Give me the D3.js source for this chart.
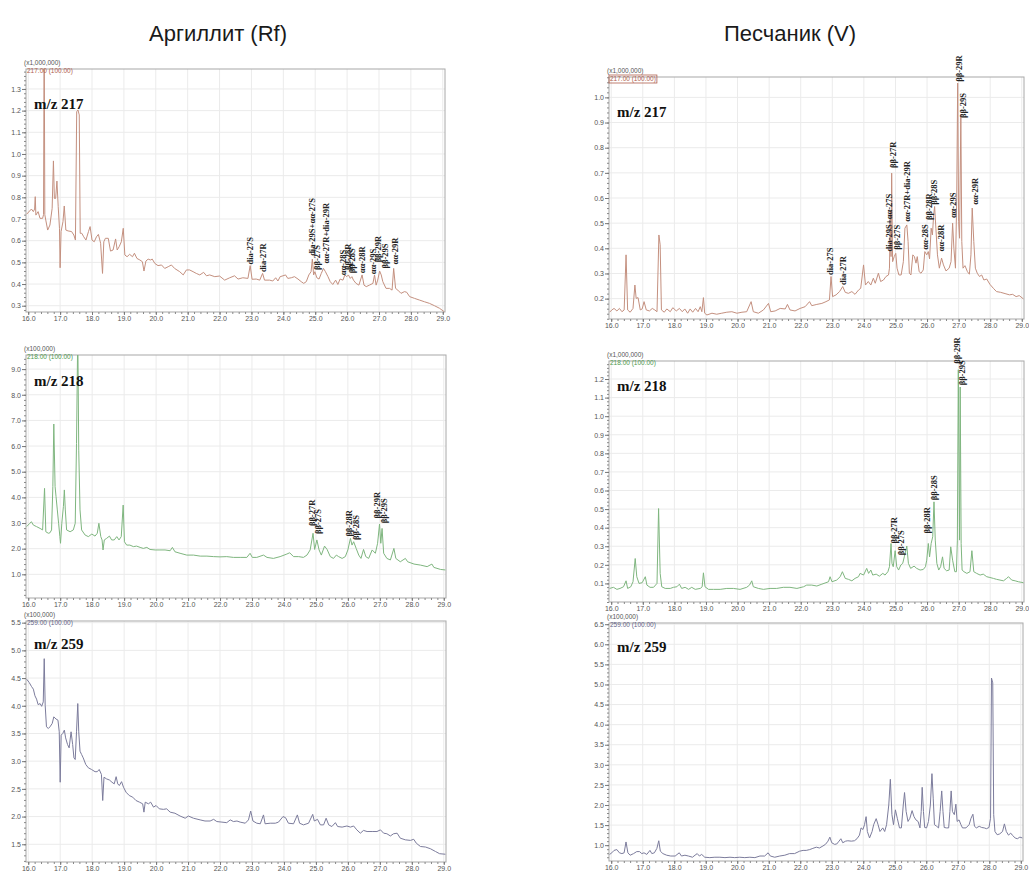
<!DOCTYPE html>
<html>
<head>
<meta charset="utf-8">
<script src="https://cdn.jsdelivr.net/npm/d3@7/dist/d3.min.js"></script>
<style>
  html, body { margin: 0; padding: 0; background: #fff; }
  svg { display: block; }
</style>
</head>
<body>
<svg id="chart" width="1029" height="875"></svg>
<script>
// ---- Column titles ----
const titles = ["Аргиллит (Rf)", "Песчаник (V)"];

// ---- Retention-time ticks (min) ----
const xTicks = [16, 17, 18, 19, 20, 21, 22, 23, 24, 25, 26, 27, 28, 29];

// ---- Intensity ticks per chromatogram ----
const rf217Ticks = [0.3, 0.4, 0.5, 0.6, 0.7, 0.8, 0.9, 1.0, 1.1, 1.2, 1.3];
const rf218Ticks = [1, 2, 3, 4, 5, 6, 7, 8, 9];
const rf259Ticks = [1.5, 2.0, 2.5, 3.0, 3.5, 4.0, 4.5, 5.0, 5.5];
const v217Ticks = [0.2, 0.3, 0.4, 0.5, 0.6, 0.7, 0.8, 0.9, 1.0];
const v218Ticks = [0.1, 0.2, 0.3, 0.4, 0.5, 0.6, 0.7, 0.8, 0.9, 1.0, 1.1, 1.2];
const v259Ticks = [1.0, 1.5, 2.0, 2.5, 3.0, 3.5, 4.0, 4.5, 5.0, 5.5, 6.0, 6.5];

// ---- Traces: [retention time, intensity] ----
const rf217 = [[15.95,0.722],[16.10,0.746],[16.16,0.734],[16.20,0.746],[16.22,0.803],[16.24,0.718],[16.31,0.734],[16.37,0.703],[16.45,0.703],[16.48,0.72],[16.50,1.60],[16.52,0.72],[16.55,0.695],[16.61,0.649],[16.68,0.672],[16.75,0.749],[16.79,0.968],[16.82,0.795],[16.86,0.795],[16.90,0.875],[16.94,0.757],[16.98,0.657],[17.00,0.475],[17.03,0.642],[17.09,0.688],[17.13,0.76],[17.18,0.649],[17.25,0.645],[17.36,0.642],[17.43,0.626],[17.48,0.603],[17.52,1.195],[17.56,1.203],[17.60,1.18],[17.63,0.634],[17.68,0.634],[17.74,0.618],[17.81,0.603],[17.89,0.642],[17.94,0.665],[18.00,0.603],[18.07,0.595],[18.14,0.618],[18.20,0.629],[18.27,0.588],[18.33,0.449],[18.37,0.595],[18.42,0.611],[18.51,0.611],[18.58,0.552],[18.66,0.557],[18.74,0.608],[18.79,0.557],[18.85,0.572],[18.92,0.595],[18.98,0.657],[19.03,0.534],[19.10,0.526],[19.18,0.537],[19.27,0.526],[19.33,0.542],[19.41,0.518],[19.50,0.511],[19.58,0.503],[19.63,0.46],[19.69,0.506],[19.76,0.515],[19.83,0.511],[19.89,0.515],[19.97,0.495],[20.07,0.485],[20.18,0.488],[20.28,0.472],[20.39,0.48],[20.49,0.488],[20.59,0.472],[20.75,0.457],[20.86,0.442],[20.96,0.465],[21.06,0.465],[21.17,0.457],[21.27,0.449],[21.38,0.442],[21.50,0.454],[21.59,0.438],[21.69,0.442],[21.85,0.434],[22.00,0.437],[22.16,0.418],[22.32,0.429],[22.47,0.438],[22.58,0.423],[22.73,0.429],[22.89,0.426],[22.96,0.485],[23.02,0.422],[23.15,0.423],[23.26,0.418],[23.35,0.449],[23.41,0.418],[23.57,0.418],[23.67,0.414],[23.76,0.429],[23.83,0.414],[23.90,0.434],[23.99,0.438],[24.07,0.442],[24.14,0.426],[24.25,0.429],[24.35,0.434],[24.46,0.423],[24.56,0.411],[24.64,0.403],[24.72,0.411],[24.80,0.442],[24.87,0.457],[24.91,0.515],[24.95,0.442],[24.99,0.457],[25.05,0.429],[25.12,0.423],[25.19,0.449],[25.26,0.472],[25.32,0.457],[25.40,0.434],[25.47,0.411],[25.55,0.398],[25.64,0.418],[25.71,0.398],[25.78,0.423],[25.87,0.418],[25.93,0.442],[25.99,0.434],[26.04,0.442],[26.10,0.426],[26.15,0.434],[26.20,0.418],[26.28,0.403],[26.37,0.395],[26.47,0.442],[26.53,0.395],[26.60,0.388],[26.70,0.395],[26.81,0.403],[26.86,0.442],[26.91,0.395],[26.96,0.418],[27.02,0.46],[27.07,0.442],[27.12,0.411],[27.22,0.38],[27.33,0.38],[27.41,0.372],[27.46,0.472],[27.52,0.38],[27.59,0.372],[27.69,0.357],[27.80,0.365],[27.87,0.362],[27.96,0.342],[28.11,0.334],[28.27,0.326],[28.43,0.318],[28.58,0.311],[28.74,0.300],[28.90,0.288],[29.05,0.272]];

const rf218 = [[15.95,2.86],[16.05,2.99],[16.10,3.05],[16.16,2.92],[16.26,2.86],[16.37,2.79],[16.45,2.73],[16.51,4.35],[16.55,2.66],[16.63,2.60],[16.68,2.62],[16.73,2.73],[16.77,4.42],[16.80,6.86],[16.84,4.42],[16.87,4.03],[16.91,3.51],[16.95,2.99],[16.99,2.47],[17.01,2.21],[17.05,2.99],[17.10,3.64],[17.13,4.29],[17.16,3.51],[17.20,2.73],[17.31,2.66],[17.41,2.73],[17.47,2.99],[17.51,6.10],[17.55,10.5],[17.58,5.84],[17.62,3.51],[17.67,2.73],[17.78,2.53],[17.88,2.47],[17.99,2.57],[18.09,2.49],[18.16,2.60],[18.21,2.99],[18.27,2.47],[18.31,2.34],[18.34,1.95],[18.38,2.34],[18.45,2.40],[18.54,2.49],[18.61,2.34],[18.69,2.34],[18.77,2.47],[18.84,2.34],[18.91,2.47],[18.97,3.70],[19.01,2.27],[19.08,2.14],[19.18,2.14],[19.29,2.08],[19.39,2.10],[19.50,2.05],[19.60,2.01],[19.71,2.05],[19.81,1.97],[19.97,1.95],[20.12,1.95],[20.28,1.95],[20.44,1.92],[20.51,2.05],[20.59,1.88],[20.75,1.82],[20.96,1.75],[21.17,1.75],[21.38,1.71],[21.59,1.71],[21.80,1.69],[22.00,1.68],[22.21,1.69],[22.42,1.66],[22.63,1.66],[22.84,1.66],[22.94,1.82],[23.01,1.66],[23.15,1.66],[23.36,1.75],[23.47,1.66],[23.67,1.62],[23.88,1.69],[24.09,1.79],[24.18,1.84],[24.30,1.69],[24.46,1.69],[24.61,1.66],[24.72,1.75],[24.82,1.95],[24.91,2.60],[24.96,1.97],[25.03,2.34],[25.10,1.95],[25.17,1.75],[25.27,2.10],[25.35,1.97],[25.45,1.69],[25.55,1.62],[25.64,1.75],[25.71,1.69],[25.82,1.62],[25.92,1.69],[26.00,1.95],[26.08,2.40],[26.13,2.14],[26.18,2.27],[26.26,2.01],[26.34,1.75],[26.41,1.62],[26.49,1.97],[26.56,1.69],[26.65,1.62],[26.76,1.95],[26.86,1.82],[26.93,2.21],[26.99,2.96],[27.03,2.21],[27.07,2.79],[27.12,1.82],[27.22,1.62],[27.33,1.56],[27.44,2.01],[27.50,1.62],[27.64,1.49],[27.80,1.62],[27.87,1.49],[28.07,1.40],[28.27,1.36],[28.48,1.30],[28.63,1.40],[28.69,1.27],[28.90,1.19],[29.05,1.17]];

const rf259 = [[15.95,4.48],[16.03,4.42],[16.10,4.35],[16.16,4.30],[16.21,4.18],[16.26,4.12],[16.31,4.02],[16.37,4.04],[16.42,3.99],[16.47,4.07],[16.50,4.85],[16.53,4.01],[16.57,3.62],[16.63,3.59],[16.68,3.62],[16.75,3.68],[16.80,3.80],[16.87,3.76],[16.93,3.74],[16.97,3.53],[17.00,2.62],[17.03,3.47],[17.08,3.50],[17.13,3.56],[17.17,3.42],[17.23,3.30],[17.28,3.24],[17.34,3.53],[17.39,3.30],[17.43,3.06],[17.47,3.03],[17.51,3.53],[17.55,4.04],[17.58,3.53],[17.62,3.18],[17.67,3.12],[17.72,3.06],[17.80,2.94],[17.88,2.88],[17.98,2.85],[18.09,2.81],[18.16,2.81],[18.22,2.85],[18.29,2.76],[18.33,2.29],[18.37,2.71],[18.45,2.68],[18.54,2.66],[18.62,2.62],[18.69,2.59],[18.75,2.72],[18.80,2.59],[18.85,2.56],[18.92,2.63],[18.98,2.53],[19.06,2.44],[19.16,2.38],[19.27,2.35],[19.37,2.29],[19.48,2.26],[19.58,2.23],[19.62,2.08],[19.66,2.26],[19.76,2.23],[19.83,2.26],[19.92,2.17],[20.00,2.20],[20.10,2.14],[20.23,2.13],[20.33,2.14],[20.44,2.08],[20.59,2.06],[20.75,2.01],[20.91,1.97],[21.01,2.01],[21.17,1.97],[21.38,1.94],[21.53,1.92],[21.69,1.92],[21.80,1.95],[21.90,1.91],[22.06,1.90],[22.21,1.89],[22.32,1.94],[22.42,1.91],[22.53,1.92],[22.63,1.90],[22.79,1.88],[22.89,1.94],[22.96,2.10],[23.03,1.92],[23.15,1.88],[23.26,1.87],[23.36,2.03],[23.41,1.87],[23.57,1.88],[23.73,1.88],[23.83,1.90],[23.97,2.00],[24.05,1.98],[24.14,1.88],[24.30,1.87],[24.42,2.03],[24.49,1.88],[24.61,1.85],[24.77,1.88],[24.90,2.04],[24.95,1.92],[25.05,1.95],[25.14,1.85],[25.24,1.85],[25.32,1.97],[25.40,1.85],[25.50,1.82],[25.61,1.89],[25.68,1.82],[25.82,1.81],[25.97,1.83],[26.08,1.81],[26.18,1.83],[26.28,1.76],[26.39,1.70],[26.49,1.75],[26.60,1.73],[26.76,1.73],[26.91,1.73],[27.02,1.76],[27.12,1.70],[27.22,1.69],[27.33,1.65],[27.43,1.69],[27.54,1.70],[27.64,1.61],[27.80,1.58],[27.96,1.57],[28.06,1.59],[28.14,1.52],[28.27,1.46],[28.43,1.45],[28.58,1.42],[28.74,1.37],[28.87,1.33],[29.05,1.32]];

const v217 = [[15.95,0.146],[16.02,0.155],[16.09,0.161],[16.18,0.151],[16.26,0.161],[16.34,0.148],[16.41,0.155],[16.47,0.374],[16.52,0.155],[16.60,0.146],[16.69,0.161],[16.75,0.254],[16.79,0.201],[16.85,0.204],[16.92,0.155],[16.98,0.159],[17.04,0.188],[17.11,0.155],[17.21,0.151],[17.30,0.161],[17.38,0.155],[17.45,0.148],[17.51,0.453],[17.55,0.414],[17.59,0.155],[17.68,0.146],[17.76,0.159],[17.87,0.148],[17.95,0.164],[18.06,0.151],[18.16,0.161],[18.25,0.148],[18.33,0.159],[18.42,0.142],[18.50,0.159],[18.58,0.146],[18.67,0.161],[18.75,0.148],[18.82,0.168],[18.87,0.148],[18.92,0.204],[18.96,0.142],[19.03,0.135],[19.19,0.142],[19.34,0.138],[19.50,0.142],[19.66,0.146],[19.82,0.148],[19.98,0.142],[20.14,0.146],[20.29,0.148],[20.43,0.188],[20.50,0.148],[20.66,0.142],[20.82,0.155],[20.98,0.181],[21.05,0.148],[21.19,0.151],[21.35,0.161],[21.51,0.159],[21.58,0.177],[21.66,0.155],[21.82,0.151],[21.98,0.161],[22.14,0.168],[22.28,0.188],[22.35,0.172],[22.51,0.177],[22.67,0.181],[22.80,0.188],[22.91,0.195],[22.96,0.288],[23.01,0.208],[23.12,0.215],[23.23,0.228],[23.33,0.248],[23.41,0.225],[23.51,0.221],[23.62,0.228],[23.72,0.217],[23.83,0.234],[23.90,0.241],[23.99,0.334],[24.05,0.254],[24.14,0.268],[24.22,0.254],[24.30,0.281],[24.36,0.261],[24.46,0.301],[24.53,0.268],[24.62,0.274],[24.70,0.288],[24.78,0.294],[24.81,0.321],[24.84,0.546],[24.86,0.367],[24.88,0.699],[24.91,0.347],[24.96,0.367],[25.01,0.380],[25.05,0.321],[25.11,0.294],[25.18,0.294],[25.25,0.347],[25.30,0.480],[25.36,0.493],[25.40,0.427],[25.44,0.301],[25.49,0.294],[25.55,0.374],[25.60,0.367],[25.65,0.341],[25.69,0.367],[25.75,0.307],[25.81,0.301],[25.88,0.314],[25.93,0.387],[25.99,0.374],[26.04,0.387],[26.08,0.358],[26.13,0.480],[26.17,0.453],[26.21,0.533],[26.24,0.566],[26.28,0.480],[26.33,0.374],[26.39,0.321],[26.46,0.361],[26.52,0.334],[26.60,0.310],[26.70,0.321],[26.76,0.347],[26.81,0.500],[26.85,0.400],[26.90,0.321],[26.94,0.599],[26.97,1.057],[27.00,0.506],[27.03,0.440],[27.07,0.931],[27.10,0.427],[27.14,0.321],[27.20,0.331],[27.28,0.307],[27.34,0.297],[27.39,0.374],[27.43,0.560],[27.48,0.427],[27.53,0.321],[27.59,0.301],[27.66,0.288],[27.73,0.294],[27.80,0.274],[27.89,0.278],[27.99,0.257],[28.10,0.241],[28.20,0.228],[28.33,0.225],[28.47,0.220],[28.61,0.215],[28.71,0.217],[28.82,0.208],[28.92,0.212],[29.05,0.199]];

const v218 = [[15.95,0.073],[16.07,0.079],[16.18,0.068],[16.28,0.073],[16.39,0.082],[16.47,0.114],[16.52,0.073],[16.62,0.082],[16.69,0.109],[16.76,0.234],[16.81,0.136],[16.88,0.100],[16.98,0.104],[17.08,0.136],[17.13,0.091],[17.23,0.079],[17.34,0.079],[17.45,0.100],[17.50,0.503],[17.55,0.154],[17.60,0.082],[17.71,0.073],[17.87,0.073],[17.97,0.079],[18.08,0.082],[18.16,0.096],[18.23,0.073],[18.34,0.079],[18.45,0.068],[18.55,0.079],[18.66,0.068],[18.82,0.073],[18.88,0.082],[18.92,0.157],[18.97,0.082],[19.08,0.068],[19.24,0.068],[19.45,0.068],[19.66,0.073],[19.87,0.073],[20.08,0.068],[20.29,0.079],[20.38,0.091],[20.45,0.114],[20.50,0.082],[20.66,0.073],[20.82,0.068],[21.03,0.073],[21.24,0.073],[21.45,0.079],[21.66,0.079],[21.88,0.073],[22.09,0.082],[22.19,0.091],[22.35,0.091],[22.51,0.086],[22.67,0.096],[22.80,0.104],[22.88,0.109],[22.93,0.136],[22.99,0.109],[23.14,0.118],[23.25,0.136],[23.32,0.163],[23.41,0.127],[23.51,0.122],[23.62,0.114],[23.72,0.127],[23.83,0.136],[23.88,0.154],[23.99,0.145],[24.09,0.181],[24.15,0.154],[24.22,0.172],[24.28,0.145],[24.39,0.150],[24.49,0.139],[24.60,0.154],[24.67,0.145],[24.76,0.163],[24.81,0.190],[24.86,0.315],[24.89,0.208],[24.93,0.190],[24.99,0.276],[25.04,0.190],[25.10,0.172],[25.17,0.199],[25.23,0.208],[25.28,0.243],[25.36,0.301],[25.41,0.208],[25.48,0.181],[25.59,0.193],[25.67,0.181],[25.78,0.172],[25.88,0.175],[25.95,0.190],[25.99,0.225],[26.04,0.315],[26.08,0.243],[26.13,0.315],[26.18,0.351],[26.22,0.539],[26.26,0.333],[26.31,0.208],[26.37,0.172],[26.43,0.190],[26.49,0.243],[26.54,0.181],[26.62,0.168],[26.70,0.172],[26.75,0.297],[26.81,0.225],[26.88,0.163],[26.93,0.163],[26.96,0.333],[26.99,1.250],[27.03,0.333],[27.05,1.157],[27.08,0.315],[27.11,0.172],[27.17,0.163],[27.26,0.154],[27.36,0.163],[27.42,0.276],[27.48,0.163],[27.57,0.154],[27.68,0.145],[27.78,0.150],[27.89,0.136],[27.99,0.132],[28.10,0.127],[28.20,0.122],[28.31,0.118],[28.42,0.114],[28.52,0.127],[28.58,0.136],[28.68,0.118],[28.79,0.114],[28.89,0.109],[29.05,0.104]];

const v259 = [[15.95,0.77],[16.02,0.81],[16.09,0.87],[16.18,0.89],[16.26,0.81],[16.34,0.79],[16.41,0.81],[16.47,1.08],[16.53,0.81],[16.60,0.75],[16.71,0.79],[16.81,0.84],[16.90,0.84],[16.97,0.79],[17.04,0.81],[17.13,0.77],[17.23,0.87],[17.29,0.79],[17.37,0.81],[17.45,0.92],[17.51,1.11],[17.56,0.85],[17.64,0.79],[17.76,0.75],[17.89,0.73],[18.03,0.73],[18.16,0.81],[18.23,0.73],[18.34,0.75],[18.45,0.73],[18.58,0.70],[18.66,0.75],[18.73,0.79],[18.80,0.73],[18.87,0.77],[18.97,0.70],[19.13,0.69],[19.29,0.70],[19.45,0.70],[19.61,0.69],[19.77,0.70],[19.92,0.69],[20.08,0.70],[20.24,0.69],[20.40,0.70],[20.56,0.69],[20.72,0.73],[20.87,0.73],[20.98,0.81],[21.05,0.73],[21.19,0.70],[21.35,0.73],[21.51,0.75],[21.66,0.79],[21.82,0.79],[21.98,0.85],[22.09,0.87],[22.19,0.87],[22.30,0.89],[22.40,0.92],[22.51,0.95],[22.61,0.93],[22.72,0.98],[22.80,1.02],[22.88,1.10],[22.94,1.20],[23.00,1.06],[23.09,1.02],[23.16,1.03],[23.23,1.10],[23.29,1.16],[23.35,1.06],[23.44,1.10],[23.51,1.11],[23.62,1.10],[23.72,1.11],[23.80,1.16],[23.88,1.25],[23.93,1.43],[23.99,1.39],[24.04,1.51],[24.09,1.71],[24.13,1.34],[24.20,1.18],[24.28,1.34],[24.33,1.51],[24.41,1.66],[24.47,1.51],[24.53,1.34],[24.62,1.43],[24.68,1.34],[24.74,1.51],[24.81,2.00],[24.86,2.64],[24.91,1.76],[24.96,1.51],[25.02,1.88],[25.08,1.67],[25.15,1.43],[25.21,1.43],[25.27,2.00],[25.31,2.31],[25.36,1.84],[25.42,1.59],[25.48,1.67],[25.55,1.86],[25.61,1.71],[25.67,1.63],[25.74,1.59],[25.80,1.43],[25.84,1.84],[25.87,2.44],[25.91,1.84],[25.95,1.44],[26.01,1.43],[26.07,1.59],[26.13,2.00],[26.18,2.78],[26.22,2.17],[26.26,1.51],[26.33,1.47],[26.39,1.43],[26.44,1.84],[26.49,2.35],[26.53,1.84],[26.57,1.44],[26.64,1.43],[26.71,1.43],[26.75,1.84],[26.79,2.35],[26.83,1.84],[26.89,1.76],[26.94,2.02],[26.98,1.59],[27.04,1.63],[27.10,1.51],[27.15,1.43],[27.26,1.43],[27.36,1.51],[27.42,1.67],[27.48,1.77],[27.53,1.47],[27.59,1.43],[27.68,1.47],[27.76,1.44],[27.84,1.43],[27.91,1.41],[27.99,1.44],[28.04,1.67],[28.07,5.16],[28.11,5.04],[28.14,1.76],[28.18,1.34],[28.25,1.26],[28.33,1.28],[28.42,1.34],[28.48,1.53],[28.54,1.34],[28.61,1.25],[28.68,1.30],[28.73,1.25],[28.82,1.18],[28.89,1.16],[28.97,1.20],[29.05,1.18]];

// ---- Peak annotations: [name, retention time, intensity at label foot] ----
const rf217Peaks = [["dia-27S",22.96,0.49],["dia-27R",23.35,0.455],["dia-29S+αα-27S",24.89,0.53],["ββ-27S",25.05,0.465],["αα-27R+dia-29R",25.35,0.495],["αα-28S",25.88,0.44],["ββ-28R",26.02,0.465],["ββ-28S",26.16,0.45],["αα-28R",26.47,0.45],["αα-29S",26.81,0.445],["ββ-29R",26.97,0.5],["ββ-29S",27.18,0.472],["αα-29R",27.50,0.49]];
const rf218Peaks = [["ββ-27R",24.89,2.88],["ββ-27S",25.08,2.57],["ββ-28R",26.03,2.47],["ββ-28S",26.26,2.34],["ββ-29R",26.91,3.18],["ββ-29S",27.14,2.99]];
const rf259Peaks = [];
const v217Peaks = [["dia-27S",22.93,0.294],["dia-27R",23.35,0.254],["dia-29S+αα-27S",24.80,0.387],["ββ-27R",24.91,0.719],["ββ-27S",25.06,0.394],["αα-27R+dia-29R",25.36,0.506],["αα-28S",25.93,0.394],["ββ-28R",26.07,0.513],["ββ-28S",26.23,0.573],["αα-28R",26.45,0.387],["αα-29S",26.83,0.52],["ββ-29R",27.01,1.062],["ββ-29S",27.13,0.918],["αα-29R",27.53,0.573]];
const v218Peaks = [["ββ-27R",24.96,0.315],["ββ-27S",25.17,0.252],["ββ-28R",26.01,0.369],["ββ-28S",26.23,0.548],["ββ-29R",26.94,1.282],["ββ-29S",27.12,1.166]];
const v259Peaks = [];

// ---- Panel layout ----
const panels = [
  {data: rf217, peaks: rf217Peaks, ticks: rf217Ticks, yDomain: [0.271, 1.392], box: [26, 69, 445, 312],
   factor: "(x1,000,000)", ion: "217.00 (100.00)", tag: "m/z 217", tagDy: 40, color: "#c4907f", ionColor: "#b0604e", ionBox: false},
  {data: rf218, peaks: rf218Peaks, ticks: rf218Ticks, yDomain: [0.077, 9.55], box: [26, 355, 446, 598],
   factor: "(x100,000)", ion: "218.00 (100.00)", tag: "m/z 218", tagDy: 31, color: "#7fb67f", ionColor: "#4d9a4d", ionBox: false},
  {data: rf259, peaks: rf259Peaks, ticks: rf259Ticks, yDomain: [1.18, 5.53], box: [26, 621, 446, 862],
   factor: "(x100,000)", ion: "259.00 (100.00)", tag: "m/z 259", tagDy: 28, color: "#7c7c9c", ionColor: "#66668a", ionBox: false},
  {data: v217, peaks: v217Peaks, ticks: v217Ticks, yDomain: [0.119, 1.081], box: [609, 77, 1024, 319],
   factor: "(x1,000,000)", ion: "217.00 (100.00)", tag: "m/z 217", tagDy: 40, color: "#c4907f", ionColor: "#b0604e", ionBox: true},
  {data: v218, peaks: v218Peaks, ticks: v218Ticks, yDomain: [0.0, 1.297], box: [609, 361, 1024, 602],
   factor: "(x1,000,000)", ion: "218.00 (100.00)", tag: "m/z 218", tagDy: 30, color: "#7fb67f", ionColor: "#4d9a4d", ionBox: false},
  {data: v259, peaks: v259Peaks, ticks: v259Ticks, yDomain: [0.606, 6.53], box: [609, 623, 1023, 861],
   factor: "(x100,000)", ion: "259.00 (100.00)", tag: "m/z 259", tagDy: 29, color: "#7c7c9c", ionColor: "#66668a", ionBox: false}
];

const svg = d3.select("#chart");
const sans = "'Liberation Sans', Arial, sans-serif";
const serif = "'Liberation Serif', 'Times New Roman', serif";

// Column titles
svg.selectAll("text.title").data(titles).join("text")
  .attr("class", "title")
  .attr("x", (d, i) => i === 0 ? 218 : 790)
  .attr("y", 41)
  .attr("text-anchor", "middle")
  .attr("font-family", sans)
  .attr("font-size", 22)
  .attr("fill", "#1a1a1a")
  .text(d => d);

panels.forEach((p, idx) => {
  const [l, t, r, b] = p.box;
  const x = d3.scaleLinear().domain([15.93, 29.07]).range([l, r]);
  const y = d3.scaleLinear().domain(p.yDomain).range([b, t]);
  const g = svg.append("g");

  // grid
  g.append("g").selectAll("line").data(xTicks).join("line")
    .attr("x1", d => x(d)).attr("x2", d => x(d)).attr("y1", t).attr("y2", b)
    .attr("stroke", "#ebebeb").attr("stroke-width", 1);
  g.append("g").selectAll("line").data(p.ticks).join("line")
    .attr("x1", l).attr("x2", r).attr("y1", d => y(d)).attr("y2", d => y(d))
    .attr("stroke", "#ebebeb").attr("stroke-width", 1);

  // frame
  g.append("rect").attr("x", l).attr("y", t).attr("width", r - l).attr("height", b - t)
    .attr("fill", "none").attr("stroke", "#a8a8a8").attr("stroke-width", 1);

  // minor ticks
  const xMinor = d3.range(16, 29.001, 0.2);
  g.append("g").attr("transform", `translate(0,${b})`)
    .call(d3.axisBottom(x).tickValues(xMinor).tickSize(2).tickFormat(""))
    .call(s => s.select(".domain").remove())
    .call(s => s.selectAll("line").attr("stroke", "#888"));
  const step = p.ticks[1] - p.ticks[0];
  const yMinor = d3.range(p.ticks[0] - step, p.ticks[p.ticks.length - 1] + step, step / 5)
    .filter(v => v >= p.yDomain[0] && v <= p.yDomain[1]);
  g.append("g").attr("transform", `translate(${l},0)`)
    .call(d3.axisLeft(y).tickValues(yMinor).tickSize(2).tickFormat(""))
    .call(s => s.select(".domain").remove())
    .call(s => s.selectAll("line").attr("stroke", "#888"));

  // major axes
  g.append("g").attr("transform", `translate(0,${b})`)
    .call(d3.axisBottom(x).tickValues(xTicks).tickSize(3).tickPadding(1).tickFormat(d3.format(".1f")))
    .call(s => s.select(".domain").remove())
    .call(s => s.selectAll("line").attr("stroke", "#777"))
    .call(s => s.selectAll("text").attr("font-family", sans).attr("font-size", 7).attr("fill", "#555"));
  g.append("g").attr("transform", `translate(${l},0)`)
    .call(d3.axisLeft(y).tickValues(p.ticks).tickSize(4).tickPadding(1).tickFormat(d3.format(".1f")))
    .call(s => s.select(".domain").remove())
    .call(s => s.selectAll("line").attr("stroke", "#777"))
    .call(s => s.selectAll("text").attr("font-family", sans).attr("font-size", 7).attr("fill", "#555"));

  // trace
  const clipId = "clip" + idx;
  svg.append("clipPath").attr("id", clipId).append("rect")
    .attr("x", l).attr("y", t).attr("width", r - l).attr("height", b - t);
  const line = d3.line().x(d => x(d[0])).y(d => y(d[1]));
  g.append("path").datum(p.data)
    .attr("clip-path", `url(#${clipId})`)
    .attr("d", line)
    .attr("fill", "none")
    .attr("stroke", p.color)
    .attr("stroke-width", 1)
    .attr("stroke-linejoin", "round");

  // header texts
  g.append("text").attr("x", l - 2).attr("y", t - 4)
    .attr("font-family", sans).attr("font-size", 6.5).attr("fill", "#555").text(p.factor);
  const ion = g.append("text").attr("x", l + 1).attr("y", t + 4)
    .attr("font-family", sans).attr("font-size", 6.5).attr("fill", p.ionColor).text(p.ion);
  if (p.ionBox) {
    const bb = ion.node().getBBox();
    g.append("rect").attr("x", bb.x - 1).attr("y", bb.y).attr("width", bb.width + 2).attr("height", bb.height)
      .attr("fill", "none").attr("stroke", p.ionColor).attr("stroke-width", 0.8);
  }

  // ion tag
  g.append("text").attr("x", l + 8).attr("y", t + p.tagDy)
    .attr("font-family", serif).attr("font-weight", "bold").attr("font-size", 15)
    .attr("fill", "#111").text(p.tag);

  // peak labels
  g.append("g").selectAll("text").data(p.peaks).join("text")
    .attr("transform", d => `translate(${x(d[1])},${y(d[2])}) rotate(-90)`)
    .attr("dy", "0.35em")
    .attr("font-family", serif).attr("font-weight", "bold").attr("font-size", 8.5)
    .attr("fill", "#222")
    .text(d => d[0]);
});
</script>
</body>
</html>
